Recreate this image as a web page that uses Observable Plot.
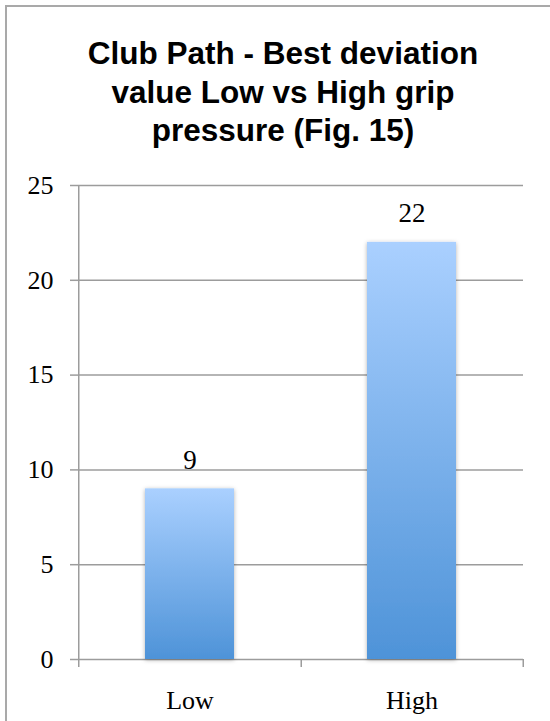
<!DOCTYPE html>
<html><head><meta charset="utf-8">
<script src="https://cdn.jsdelivr.net/npm/d3@7"></script>
<script src="https://cdn.jsdelivr.net/npm/@observablehq/plot@0.6"></script>
<style>
html,body{margin:0;padding:0;width:550px;height:721px;overflow:hidden;background:#fff;}
#frame{position:absolute;left:5px;top:5px;width:600px;height:800px;border:2px solid #a9a9a9;box-sizing:border-box;}
#title{position:absolute;left:8px;top:34px;width:550px;text-align:center;font:bold 31.5px/38.5px "Liberation Sans",Arial,sans-serif;color:#000;}
#chart{position:absolute;left:0;top:150px;}
</style></head><body>
<div id="frame"></div>
<div id="title">Club Path - Best deviation<br>value Low vs High grip<br>pressure (Fig. 15)</div>
<div id="chart"></div>
<script>
const categories = ["Low", "High"];
const values = [9, 22];
const yTicks = [0, 5, 10, 15, 20, 25];
const data = categories.map((c, i) => ({category: c, value: values[i]}));

const W = 550, H = 571, ML = 78, MR = 27, MT = 35, MB = 62;
const step = (W - ML - MR) / categories.length;
const grid = "#9c9c9c";

const plot = Plot.plot({
  width: W, height: H,
  marginLeft: ML, marginRight: MR, marginTop: MT, marginBottom: MB,
  style: {fontFamily: '"Liberation Serif","Times New Roman",serif', fontSize: "26px", color: "#000", background: "transparent"},
  x: {domain: categories, paddingInner: 0.6, paddingOuter: 0.3, label: null},
  y: {domain: [0, 25], label: null},
  marks: [
    Plot.ruleY(yTicks, {stroke: grid, strokeWidth: 1.5}),
    Plot.barY(data, {x: "category", y: "value", fill: "url(#barGrad)"}),
    Plot.ruleX(categories.slice(0, 1), {x: d => d, y1: 25, y2: 0, dx: -step / 2, insetBottom: -8, stroke: grid, strokeWidth: 1.5}),
    Plot.ruleX(categories, {x: d => d, y1: 0, y2: 0, dx: step / 2, insetBottom: -8, stroke: grid, strokeWidth: 1.5}),
    Plot.axisY({ticks: yTicks, tickSize: 8, tickPadding: 17, stroke: grid, strokeWidth: 1.5, fill: "#000", tickFormat: d => d}),
    Plot.axisX({tickSize: 0, tickPadding: 31, fill: "#000"}),
    Plot.text(data, {x: "category", y: "value", text: d => String(d.value), dy: -20, lineAnchor: "bottom", fill: "#000", fontSize: 27})
  ]
});

plot.insertAdjacentHTML("afterbegin",
  '<defs><linearGradient id="barGrad" x1="0" y1="0" x2="0" y2="1">' +
  '<stop offset="0" stop-color="#aad0ff"/><stop offset="1" stop-color="#4e93d8"/></linearGradient>' +
  '<filter id="sh" x="-20%" y="-5%" width="140%" height="110%">' +
  '<feDropShadow dx="0" dy="1" stdDeviation="2.2" flood-color="#000" flood-opacity="0.3"/></filter></defs>');
d3.select(plot).selectAll('g[aria-label="bar"] rect').attr("filter", "url(#sh)");

document.getElementById("chart").appendChild(plot);
</script>
</body></html>
